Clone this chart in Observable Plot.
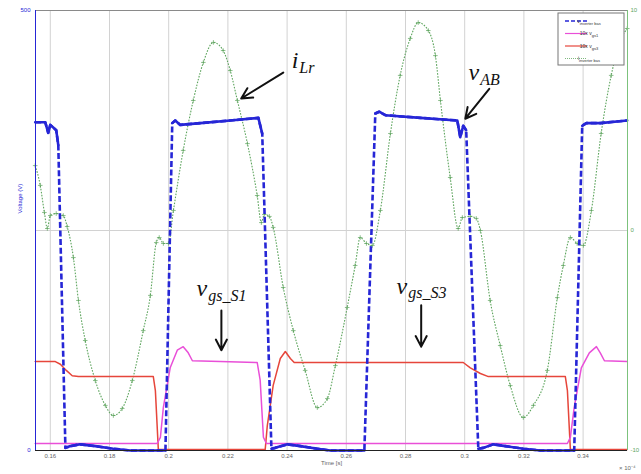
<!DOCTYPE html>
<html><head><meta charset="utf-8">
<script src="https://cdn.jsdelivr.net/npm/d3@7"></script>
<script src="https://cdn.jsdelivr.net/npm/@observablehq/plot@0.6"></script>
<style>
html,body{margin:0;padding:0;background:#fff;}
#chart{position:relative;width:641px;height:474px;overflow:hidden;}
</style></head><body><div id="chart"></div>
<script>
// ---- data (time in units of 1e-4 s) ----
const vabT = [0.1549,0.1583,0.1593,0.1600,0.1610,0.1620,0.1627,0.1651,0.1668,0.1701,0.1752,0.1813,0.1870,0.1989,0.2012,0.2022,0.2039,0.2107,0.2208,0.2303,0.2316,0.2347,0.2360,0.2401,0.2445,0.2502,0.2546,0.2661,0.2698,0.2711,0.2732,0.2850,0.2975,0.2985,0.2995,0.3005,0.3046,0.3063,0.3097,0.3137,0.3198,0.3255,0.3370,0.3397,0.3411,0.3458,0.3549];
const vabV = [373,373,361,370,367,364,347,3,5,7,5,2,0,0,372,375,370,372,375,378,360,2,3,7,5,2,0,0,383,385,381,378,375,356,369,364,2,3,7,5,2,0,0,369,372,372,375];

const ilrT = [0.1549,0.1566,0.1580,0.1590,0.1600,0.1620,0.1644,0.1657,0.1678,0.1695,0.1718,0.1752,0.1786,0.1813,0.1843,0.1877,0.1914,0.1938,0.1958,0.1968,0.1982,0.1999,0.2016,0.2049,0.2083,0.2117,0.2151,0.2184,0.2208,0.2232,0.2266,0.2299,0.2313,0.2323,0.2340,0.2353,0.2387,0.2421,0.2461,0.2502,0.2536,0.2563,0.2603,0.2630,0.2647,0.2668,0.2688,0.2715,0.2749,0.2782,0.2816,0.2843,0.2877,0.2901,0.2918,0.2951,0.2978,0.2992,0.3019,0.3039,0.3053,0.3086,0.3120,0.3154,0.3198,0.3232,0.3279,0.3313,0.3333,0.3357,0.3380,0.3401,0.3428,0.3461,0.3495,0.3526,0.3549];
const ilrI = [2.95,2.05,0.82,0.09,0.68,0.77,0.68,0.18,-1.23,-3.18,-5.0,-6.82,-7.95,-8.41,-8.09,-6.82,-4.55,-2.95,-0.55,-0.32,-0.59,-0.59,0.91,3.64,5.91,7.64,8.55,8.18,7.27,5.91,3.95,1.59,0.36,0.73,0.64,0.14,-2.59,-4.55,-6.36,-8.05,-7.64,-6.14,-3.5,-1.59,-0.32,-0.59,-0.68,0.91,4.41,7.05,8.73,9.45,9.09,7.95,5.91,2.41,0.09,0.59,0.64,0.55,0,-3.18,-5.23,-7.05,-8.5,-7.95,-6.36,-3.05,-1.59,-0.32,-0.59,-0.68,0.91,4.41,7.05,8.64,9.18];

const vgs1T = [0.1549,0.1961,0.1972,0.1982,0.2005,0.2029,0.2049,0.2066,0.2080,0.2174,0.2299,0.2309,0.2320,0.2330,0.3347,0.3357,0.3370,0.3394,0.3421,0.3445,0.3458,0.3472,0.3549];
const vgs1V = [8,8,15,49,94,114,118,111,102,101,100,80,15,8,8,15,49,94,111,118,111,102,101];

const vgs3T = [0.1549,0.1617,0.1634,0.1654,0.1674,0.1695,0.1948,0.1955,0.1965,0.2326,0.2333,0.2353,0.2377,0.2394,0.2411,0.2424,0.2995,0.3019,0.3053,0.3080,0.3340,0.3347,0.3357,0.3549];
const vgs3V = [101,101,98,91,85,84,84,68,1,1,28,74,104.5,112.5,104.5,100,100,94,87.5,84,84,68,1,1];

const xDomain = [0.155, 0.355];
const xTicks = [0.16,0.18,0.2,0.22,0.24,0.26,0.28,0.3,0.32,0.34];
const leftDomain = [0, 500];
const leftTicks = [0, 500];
const rightDomain = [-10, 10];
const rightTicks = [-10, 0, 10];

// annotations (time, voltage)
const annT = [0.2438, 0.3049, 0.2130, 0.2806];
const annV = [443, 429.5, 184, 187];
const annMain = ["i", "v", "v", "v"];
const annSub = ["Lr", "AB", "gs_S1", "gs_S3"];
const arrT1 = [0.2387, 0.3083, 0.2178, 0.2853];
const arrV1 = [429.5, 411, 159, 165];
const arrT2 = [0.2245, 0.3002, 0.2178, 0.2853];
const arrV2 = [400, 377, 114, 118];

// legend
const legLabels = [["v","inverter bas"],["10x v","gs1"],["10x v","gs3"],["i","inverter bas"]];

// ---- colours ----
const cBlue = "#2626d6", cPink = "#e94fd8", cRed = "#e6463b", cGreen = "#5ea55e";

// ---- build tables ----
const toLeft = d3.scaleLinear(rightDomain, leftDomain);
const vab = vabT.map((t,i)=>({t, v: vabV[i]}));
// plateau segments of v_AB (drawn solid), the switching edges stay dashed
let seg = 0, prevState = null;
const vabFlat = [];
vab.forEach(d => {
  const state = d.v > 200 ? "hi" : "lo";
  if (state !== prevState) seg++;
  prevState = state;
  vabFlat.push({...d, seg});
});
const ilr = ilrT.map((t,i)=>({t, v: toLeft(ilrI[i])}));
const vgs1 = vgs1T.map((t,i)=>({t, v: vgs1V[i]}));
const vgs3 = vgs3T.map((t,i)=>({t, v: vgs3V[i]}));
const ann = annT.map((t,i)=>({t, v: annV[i], main: annMain[i], sub: annSub[i]}));
const arrows = arrT1.map((t,i)=>({x1:t, y1:arrV1[i], x2:arrT2[i], y2:arrV2[i]}));

const fmtX = d => String(+d.toFixed(2));
const serif = "'Liberation Serif', 'Times New Roman', serif";

const plot = Plot.plot({
  width: 641, height: 474,
  marginLeft: 35, marginRight: 14, marginTop: 10, marginBottom: 24,
  style: {fontFamily: "'Liberation Sans', Arial, sans-serif", fontSize: "6px", background: "#fff", overflow: "visible"},
  x: {domain: xDomain},
  y: {domain: leftDomain},
  marks: [
    Plot.gridX(xTicks, {stroke: "#d2d2d2", strokeOpacity: 1}),
    Plot.gridY([toLeft(0)], {stroke: "#d2d2d2", strokeOpacity: 1}),
    Plot.ruleY([leftDomain[1]], {stroke: "#8a8a8a"}),
    Plot.line(ilr, {x: "t", y: "v", stroke: cGreen, strokeWidth: 1.1, strokeDasharray: "1.6,1.4", strokeLinecap: "butt", curve: "monotone-x"}),
    Plot.dot(ilr, {x: "t", y: "v", symbol: "plus", r: 1.6, stroke: cGreen, strokeWidth: 0.7}),
    Plot.line(vgs3, {x: "t", y: "v", stroke: cRed, strokeWidth: 1.5}),
    Plot.line(vgs1, {x: "t", y: "v", stroke: cPink, strokeWidth: 1.5}),
    Plot.line(vab, {x: "t", y: "v", stroke: cBlue, strokeWidth: 2.6, strokeDasharray: "6,2.6", strokeLinecap: "butt"}),
    Plot.line(vabFlat, {x: "t", y: "v", z: "seg", stroke: cBlue, strokeWidth: 2.6}),
    Plot.ruleY([leftDomain[0]], {stroke: "#222"}),
    Plot.ruleX([xDomain[0]], {stroke: cBlue}),
    Plot.ruleX([xDomain[1]], {stroke: "#7cc27c"}),
    Plot.axisX({ticks: xTicks, tickFormat: fmtX, tickSize: 0, tickPadding: 3, label: null, color: "#666"}),
    Plot.axisY({anchor: "left", ticks: leftTicks, tickSize: 0, tickPadding: 5, label: null, color: cBlue}),
    Plot.axisY({anchor: "right", ticks: rightTicks.map(toLeft), tickFormat: d => String(Math.round(toLeft.invert(d))), tickSize: 0, tickPadding: 3, label: null, color: cGreen}),
    Plot.text(["Voltage (V)"], {frameAnchor: "left", dx: -15, dy: -17, rotate: -90, fill: cBlue, fontSize: 6}),
    Plot.text(["Time [s]"], {frameAnchor: "bottom", dy: 14, fill: "#666", fontSize: 6}),
    Plot.text(["× 10⁻⁴"], {frameAnchor: "bottom-right", dx: 8, dy: 19, textAnchor: "end", fill: "#666", fontSize: 6}),
    Plot.arrow(arrows, {x1: "x1", y1: "y1", x2: "x2", y2: "y2", stroke: "#111", strokeWidth: 2, headLength: 9, headAngle: 55}),
    Plot.text(ann, {x: "t", y: "v", text: "main", textAnchor: "end", fontFamily: serif, fontStyle: "italic", fontSize: 24, fill: "#111"}),
    Plot.text(ann, {x: "t", y: "v", text: "sub", textAnchor: "start", dx: 1, dy: 7, fontFamily: serif, fontStyle: "italic", fontSize: 16, fill: "#111"})
  ]
});

// legend box (top-right of the frame)
const svg = d3.select(plot);
const fr = {right: 641 - 14, top: 10};
const g = svg.append("g").attr("font-family", "'Liberation Sans', Arial, sans-serif").attr("font-size", 5);
const bx = fr.right - 69, by = fr.top + 3, bw = 66, bh = 52;
g.append("rect").attr("x", bx).attr("y", by).attr("width", bw).attr("height", bh).attr("fill", "#fff").attr("stroke", "#777").attr("stroke-width", 1);
const legStyle = [{s: cBlue, w: 1.6, d: "4,2"}, {s: cPink, w: 1.2, d: null}, {s: cRed, w: 1.2, d: null}, {s: cGreen, w: 0.8, d: "1,1"}];
legLabels.forEach((lab, i) => {
  const yy = by + 8 + i * 12.5;
  const ln = g.append("line").attr("x1", bx + 7).attr("x2", bx + 29).attr("y1", yy).attr("y2", yy)
    .attr("stroke", legStyle[i].s).attr("stroke-width", legStyle[i].w);
  if (legStyle[i].d) ln.attr("stroke-dasharray", legStyle[i].d);
  const t = g.append("text").attr("x", bx + 31).attr("y", yy + 1.5).attr("fill", "#333");
  t.append("tspan").text(lab[0]);
  t.append("tspan").attr("font-size", 4).attr("dy", 2).text(lab[1]);
});

document.getElementById("chart").appendChild(plot);
</script>
</body></html>
